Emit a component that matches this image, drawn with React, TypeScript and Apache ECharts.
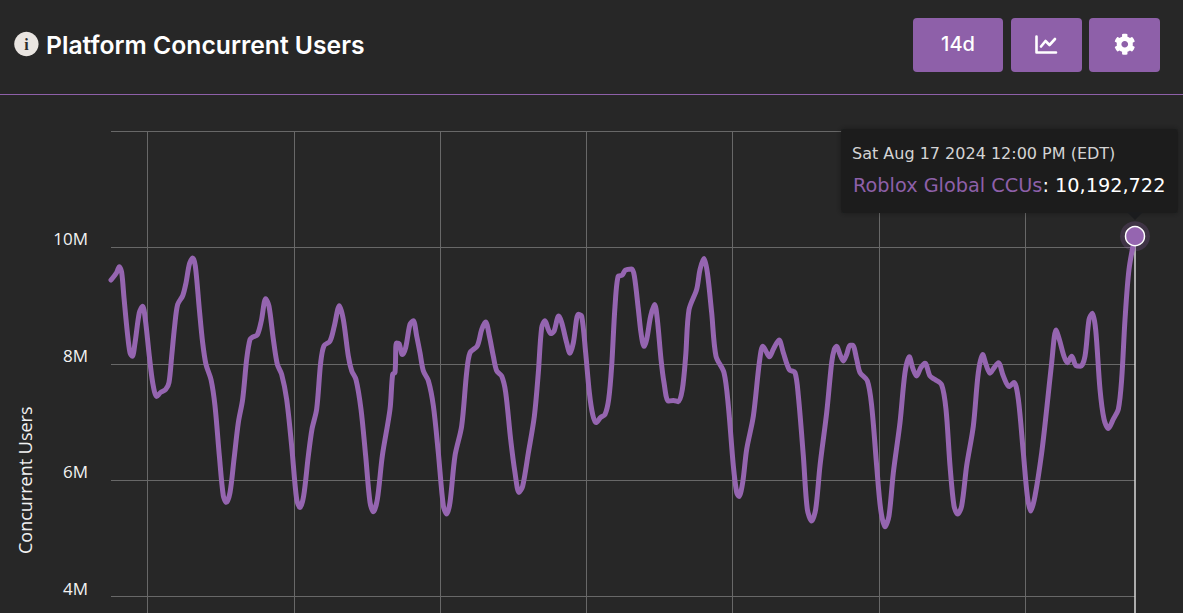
import React, { useEffect, useRef } from "react";
import * as echarts from "echarts";

// hours since Sat Aug 3 2024 12:00 PM (EDT)
const hours = [0,1.86,2.73,3.5,4.27,5.36,6.23,7,7.88,9.3,10.39,11.27,12.58,13.67,14.98,16.3,17.94,19.03,19.91,20.89,21.88,23.52,24.61,25.7,26.8,27.67,28.98,30.08,31.17,32.81,34.12,35.55,36.86,37.84,39.05,40.36,41.78,43.2,44.52,45.61,46.48,48.02,49.33,50.75,51.84,53.27,54.58,56,57.64,59.28,60.92,62.02,63.22,64.75,65.96,67.48,68.8,69.89,71.86,73.28,74.92,76.24,77.88,78.97,80.39,82.03,83.56,84.99,86.08,87.39,89.03,91.55,92.42,93.19,93.63,94.5,95.6,96.69,98.11,99.2,100.3,101.39,102.48,104.13,105.77,107.41,109.05,110.14,
111.23,112.87,115.06,116.7,117.8,120.2,121.63,122.94,124.14,125.45,126.55,128.19,129.5,131.14,132.56,133.88,135.08,136.94,138.91,140.22,141.31,142.41,143.5,144.27,145.36,146.89,147.88,149.52,150.61,151.7,153.34,154.44,155.75,156.95,158.05,159.14,160.67,162.09,163.3,164.28,165.38,166.47,167.67,168.77,170.84,171.72,173.03,173.91,174.89,175.77,177.08,178.39,179.27,180.47,181.45,182.88,184.52,186.16,187.47,188.56,189.66,192.17,193.27,194.58,195.67,197.09,198.52,201.14,202.56,204.2,205.3,206.06,207.27,208.58,210.77,212.73,213.83,214.6,216.02,217.33,219.19,220.61,222.58,
224.44,225.53,227.17,228.48,229.9,231.22,232.64,234.83,236.47,237.34,238.11,239.2,240.3,241.39,242.48,243.36,244.67,245.77,248.17,249.59,251.23,252.55,253.97,255.28,256.7,258.89,260.53,261.95,263.05,264.36,265.67,267.09,268.73,270.37,272.56,273.98,275.3,276.61,277.81,279.13,280.77,282.95,284.59,286.02,287.11,288.42,289.73,291.16,292.8,294.66,296.3,297.72,299.36,300.67,301.77,303.19,305.38,307.02,308.66,310.08,311.17,312.7,313.8,315.22,316.64,318.17,319.59,320.91,322,323.09,324.52,325.83,327.25,328.89,330.53,331.62,332.72,334.03,336];

// concurrent users, millions
const users = [9.44,9.57,9.67,9.57,9.13,8.54,8.19,8.13,8.36,8.88,8.99,8.76,8.13,7.68,7.44,7.51,7.56,7.68,8.13,8.65,9.02,9.17,9.39,9.71,9.82,9.68,8.94,8.36,7.99,7.73,7.28,6.42,5.73,5.62,5.79,6.36,6.99,7.39,8.08,8.42,8.46,8.5,8.74,9.12,8.99,8.42,7.99,7.82,7.39,6.59,5.67,5.53,5.73,6.42,6.88,7.22,8.02,8.31,8.39,8.65,9,8.76,8.13,7.88,7.73,7.22,6.42,5.62,5.46,5.67,6.42,7.22,7.82,7.85,8.36,8.35,8.16,8.28,8.68,8.74,8.48,8.19,7.88,7.71,7.28,6.47,5.56,5.42,
5.62,6.42,6.93,7.85,8.19,8.31,8.59,8.72,8.48,8.13,7.88,7.79,7.51,6.7,6.13,5.79,5.9,6.47,7.1,7.85,8.62,8.74,8.59,8.52,8.56,8.82,8.71,8.36,8.18,8.36,8.85,8.82,8.19,7.51,7.13,6.99,7.08,7.13,7.39,7.96,8.99,9.51,9.52,9.61,9.63,9.51,8.94,8.53,8.3,8.42,8.82,9.02,8.76,8.08,7.68,7.36,7.37,7.35,7.56,8.13,8.93,9.28,9.62,9.81,9.57,8.88,8.13,7.85,7.28,6.25,5.79,5.72,5.96,6.53,7.1,8.02,8.3,8.25,8.12,8.25,8.41,8.19,7.9,
7.85,7.45,6.42,5.5,5.3,5.5,6.25,7.16,8.02,8.25,8.3,8.16,8.05,8.16,8.32,8.32,8.08,7.85,7.71,7.28,6.25,5.5,5.2,5.39,6.13,6.99,7.85,8.12,7.93,7.79,7.93,8.01,7.79,7.73,7.64,7.22,6.25,5.56,5.42,5.56,6.25,6.93,7.85,8.16,7.99,7.84,7.93,8.02,7.79,7.61,7.68,7.39,6.47,5.73,5.47,5.73,6.47,7.22,8.02,8.58,8.42,8.13,8.02,8.13,7.97,7.96,8.13,8.76,8.87,8.59,7.56,7.05,6.89,7.05,7.22,7.73,8.76,9.62,10.192722];

const dayTicks = [12, 60, 108, 156, 204, 252, 300];
const yTickLabels: Record<number, string> = { 10: "10M", 8: "8M", 6: "6M", 4: "4M" };

const TITLE = "Platform Concurrent Users";
const SERIES_NAME = "Roblox Global CCUs";
const TOOLTIP_DATE = "Sat Aug 17 2024 12:00 PM (EDT)";
const TOOLTIP_VALUE = "10,192,722";
const RANGE_LABEL = "14d";

const PURPLE = "#8e60a9";
const LINE = "#9565b0";
const BG = "#272727";
const GRID = "#686868";
const SANS = "'Open Sans', sans-serif";

const COG =
  "M487.4 315.7l-42.6-24.6c4.3-23.2 4.3-47 0-70.2l42.6-24.6c4.9-2.8 7.1-8.6 5.5-14-11.1-35.6-30-67.8-54.7-94.6-3.8-4.1-10-5.1-14.8-2.3L380.8 110c-17.9-15.4-38.5-27.3-60.8-35.1V25.8c0-5.6-3.9-10.5-9.4-11.7-36.7-8.2-74.3-7.8-109.2 0-5.5 1.2-9.4 6.1-9.4 11.7V75c-22.2 7.9-42.8 19.8-60.8 35.1L88.7 85.5c-4.9-2.8-11-1.9-14.8 2.3-24.7 26.7-43.6 58.9-54.7 94.6-1.7 5.4.6 11.2 5.5 14L67.3 221c-4.3 23.2-4.3 47 0 70.2l-42.6 24.6c-4.9 2.8-7.1 8.6-5.5 14 11.1 35.6 30 67.8 54.7 94.6 3.8 4.1 10 5.1 14.8 2.3l42.6-24.6c17.9 15.4 38.5 27.3 60.8 35.1v49.2c0 5.6 3.9 10.5 9.4 11.7 36.7 8.2 74.3 7.8 109.2 0 5.5-1.2 9.4-6.1 9.4-11.7v-49.2c22.2-7.9 42.8-19.8 60.8-35.1l42.6 24.6c4.9 2.8 11 1.9 14.8-2.3 24.7-26.7 43.6-58.9 54.7-94.6 1.5-5.5-.7-11.3-5.6-14.1zM256 336c-44.1 0-80-35.9-80-80s35.9-80 80-80 80 35.9 80 80-35.9 80-80 80z";
echarts.graphic.registerShape("cogIcon", echarts.graphic.extendPath(COG, {}) as any);

export default function App() {
  const ref = useRef<HTMLDivElement>(null);
  useEffect(() => {
    const chart = echarts.init(ref.current!, null, { renderer: "svg" });
    const last = hours.length - 1;
    const lastPoint = [hours[last], users[last] * 1e6];
    const button = (x: number, w: number) => ({
      type: "rect",
      shape: { x, y: 18, width: w, height: 54, r: 4 },
      style: { fill: PURPLE },
    });
    chart.setOption({
      animation: false,
      backgroundColor: BG,
      grid: { left: 111, top: 131, width: 1024, height: 698.5, containLabel: false },
      xAxis: {
        type: "value",
        min: 0,
        max: 336,
        axisLine: { show: false },
        axisTick: { show: false, customValues: dayTicks },
        axisLabel: { show: false, customValues: dayTicks },
        splitLine: { show: true, lineStyle: { color: GRID, width: 1 } },
      },
      yAxis: {
        type: "value",
        min: 0,
        max: 12e6,
        interval: 2e6,
        name: "Concurrent Users",
        nameLocation: "middle",
        nameGap: 77,
        nameTextStyle: { color: "#f2f2f2", fontSize: 18, fontFamily: SANS },
        axisLine: { show: false },
        axisTick: { show: false },
        axisLabel: {
          margin: 23,
          color: "#f2f2f2",
          fontSize: 17,
          fontFamily: SANS,
          verticalAlign: "bottom",
          lineHeight: 17,
          padding: [0, 0, 0, 0],
          formatter: (v: number) => yTickLabels[v / 1e6] ?? "",
        },
        splitLine: { show: true, lineStyle: { color: GRID, width: 1 } },
      },
      series: [
        {
          type: "line",
          name: SERIES_NAME,
          data: hours.map((h, i) => [h, users[i] * 1e6]),
          smooth: 0.3,
          showSymbol: false,
          z: 3,
          lineStyle: { color: LINE, width: 5, cap: "round", join: "round" },
          markLine: {
            silent: true,
            symbol: "none",
            z: 1,
            label: { show: false },
            lineStyle: { color: "#d8d8d8", width: 1.5, type: "solid" },
            data: [[{ coord: [lastPoint[0], 0] }, { coord: lastPoint }]],
          },
        },
        {
          type: "scatter",
          data: [lastPoint],
          symbolSize: 30,
          itemStyle: { color: LINE, opacity: 0.22 },
          z: 4,
        },
        {
          type: "scatter",
          data: [lastPoint],
          symbolSize: 19,
          itemStyle: { color: LINE, borderColor: "#ffffff", borderWidth: 1.5, opacity: 1 },
          z: 5,
        },
      ],
      graphic: [
        { type: "rect", shape: { x: 0, y: 94, width: 1183, height: 1 }, style: { fill: PURPLE } },
        { type: "circle", shape: { cx: 26.4, cy: 44, r: 12.2 }, style: { fill: "#e9e5e1" } },
        {
          type: "text", x: 26.4, y: 44.5,
          style: { text: "i", fill: "#2b2b2b", font: "bold 16px 'Liberation Serif', serif", align: "center", verticalAlign: "middle" },
        },
        {
          type: "text", x: 46, y: 45,
          style: { text: TITLE, fill: "#ffffff", font: "600 24.7px Inter, sans-serif", verticalAlign: "middle" },
        },
        button(913, 90),
        button(1011, 71),
        button(1089, 71),
        {
          type: "text", x: 958, y: 44,
          style: { text: RANGE_LABEL, fill: "#ffffff", font: "500 20px Inter, sans-serif", align: "center", verticalAlign: "middle" },
        },
        {
          type: "polyline",
          shape: { points: [[1036.5, 36.5], [1036.5, 52.5], [1056, 52.5]] },
          style: { stroke: "#fff", lineWidth: 2.6, fill: "none", lineCap: "round", lineJoin: "round" },
        },
        {
          type: "polyline",
          shape: { points: [[1041, 46.5], [1045.5, 41], [1049.5, 45], [1055, 39]] },
          style: { stroke: "#fff", lineWidth: 2.6, fill: "none", lineCap: "round", lineJoin: "round" },
        },
        { type: "cogIcon", x: 1114, y: 33.5, scaleX: 0.0415, scaleY: 0.0415, style: { fill: "#ffffff" } },
        {
          type: "rect", z: 50,
          shape: { x: 841, y: 129, width: 337, height: 84, r: 3 },
          style: { fill: "#1b1c1e", shadowBlur: 6, shadowColor: "rgba(0,0,0,0.35)" },
        },
        {
          type: "polygon", z: 50,
          shape: { points: [[1127, 212], [1143, 212], [1135, 220]] },
          style: { fill: "#1b1c1e" },
        },
        {
          type: "text", z: 51, x: 852, y: 153,
          style: { text: TOOLTIP_DATE, fill: "#d4d4d4", font: "16px 'DejaVu Sans', sans-serif", verticalAlign: "middle" },
        },
        {
          type: "text", z: 51, x: 853, y: 185,
          style: {
            text: `{a|${SERIES_NAME}}{b|: ${TOOLTIP_VALUE}}`,
            verticalAlign: "middle",
            rich: {
              a: { fill: PURPLE, font: "19.3px 'DejaVu Sans', sans-serif" },
              b: { fill: "#ffffff", font: "19.3px 'DejaVu Sans', sans-serif" },
            },
          },
        },
      ],
    });
    return () => chart.dispose();
  }, []);
  return (
    <div style={{ position: "fixed", left: 0, top: 0, width: 1183, height: 613, overflow: "hidden", background: BG }}>
      <div ref={ref} style={{ width: 1183, height: 900 }} />
    </div>
  );
}
